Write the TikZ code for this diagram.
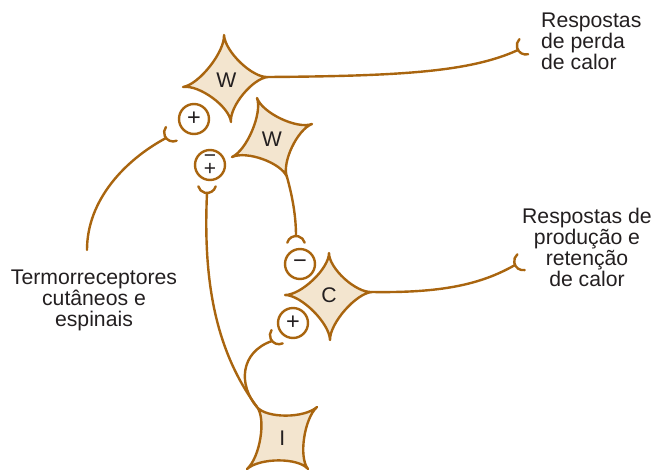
\documentclass[tikz,border=0pt]{standalone}
\usepackage{fontspec}
\setmainfont{Liberation Sans}
\usepackage{tikz}
\usetikzlibrary{calc,positioning}
\definecolor{axonx}{HTML}{A9650F}
\definecolor{somafill}{HTML}{F3E5CF}
\definecolor{inkx}{HTML}{231F20}
\tikzset{
  axon/.style={line width=2.4pt,axonx,line cap=round},
  soma/.style={draw=axonx,line width=2.4pt,fill=somafill,line join=round},
  sign/.style={circle,draw=axonx,line width=2.4pt,fill=white,minimum size=30pt,inner sep=0pt,text=inkx,font=\fontsize{23.5}{20}\selectfont},
  lab/.style={text=inkx,font=\fontsize{21.2}{21}\selectfont,inner sep=0pt}
}
% four-pointed cell body: name, tips clockwise from the top, letter
\newcommand{\somacell}[6]{%
  \coordinate (#1a) at (#2); \coordinate (#1b) at (#3);
  \coordinate (#1c) at (#4); \coordinate (#1d) at (#5);
  \coordinate (#1o) at ($0.25*(#1a)+0.25*(#1b)+0.25*(#1c)+0.25*(#1d)$);
  \draw[soma] (#1a) .. controls ($(#1a)!0.37!(#1o)$) and ($(#1b)!0.37!(#1o)$) .. (#1b)
    .. controls ($(#1b)!0.37!(#1o)$) and ($(#1c)!0.37!(#1o)$) .. (#1c)
    .. controls ($(#1c)!0.37!(#1o)$) and ($(#1d)!0.37!(#1o)$) .. (#1d)
    .. controls ($(#1d)!0.37!(#1o)$) and ($(#1a)!0.37!(#1o)$) .. (#1a) -- cycle;
  \node[lab] (#1) at (#1o) {#6};
}
% synaptic ending: tip, direction it opens to
\newcommand{\synend}[2]{%
  \draw[axon] ($(#1)+(#2:9)+(#2+105:9)$) arc[start angle=#2+105,end angle=#2+255,radius=9];
}

\begin{document}
\begin{tikzpicture}[x=1pt,y=-1pt]
\useasboundingbox (0,0) rectangle (664,469);
% axon endings
\coordinate (tLoss) at (518,50);
\coordinate (tGain) at (515,265);
\coordinate (tRec) at (166,138);
\coordinate (tPM) at (207,193);
\coordinate (tM) at (296,236);
\coordinate (tP) at (272,341);
\coordinate (rec) at (87,250);

% cell bodies
\somacell{W1}{224,35}{268,77}{231,122}{183,87}{W}
\somacell{W2}{257,98}{312,124}{287,177}{232,157}{W}
\somacell{C}{329,253}{372,292}{330,340}{285,295}{C}
\somacell{I}{257,407}{317,407}{308,469}{247,469}{I}

% axons
\draw[axon] (W1b) .. controls (400,76) and (470,72) .. (tLoss);
\draw[axon] (W2c) .. controls (292,195) and (296,215) .. (tM);
\draw[axon] (Cb) .. controls (440,293) and (480,285) .. (tGain);
\draw[axon] (Ia) .. controls (215,350) and (203,280) .. (tPM);
\draw[axon] (Ia) .. controls (238,385) and (240,352) .. (tP);
\draw[axon] (rec) .. controls (87,200) and (125,160) .. (tRec);
\synend{tLoss}{-30}
\synend{tGain}{-25}
\synend{tRec}{-38}
\synend{tPM}{-90}
\synend{tM}{90}
\synend{tP}{-40}

% synapse signs
\node[sign] (p1) at (194,119) {+};
\node[sign,align=center,font=\fontsize{21}{13}\selectfont] (pm) at (210,165) {−\\+};
\node[sign] (m2) at (300,264) {−};
\node[sign] (p3) at (293,323) {+};

% labels
\node[lab,anchor=north west,align=left] (loss) at (541,13) {Respostas\\de perda\\de calor};
\node[lab,anchor=north,align=center] (gain) at (587,208) {Respostas de\\produção e\\retenção\\de calor};
\node[lab,anchor=north,align=center] (recl) at (94,270) {Termorreceptores\\cutâneos e\\espinais};
\end{tikzpicture}
\end{document}
